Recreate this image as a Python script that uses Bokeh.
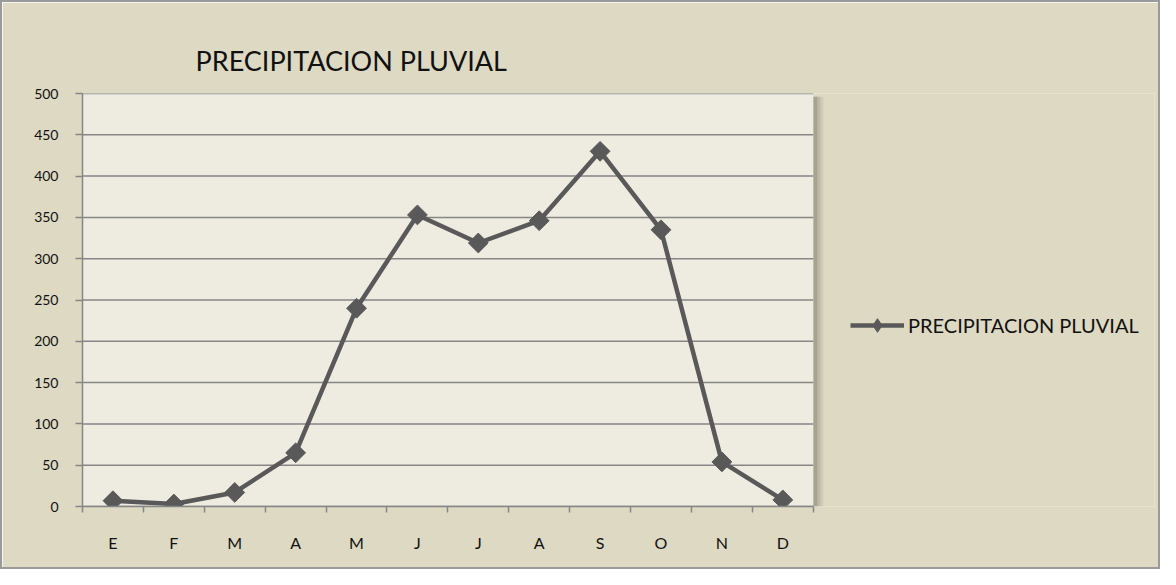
from bokeh.plotting import figure
from bokeh.models import FixedTicker, Legend, LegendItem, Range1d, Title
from bokeh.embed import file_html
from bokeh.resources import INLINE

months = ["E", "F", "M", "A", "M", "J", "J", "A", "S", "O", "N", "D"]
rain = [7, 3, 17, 65, 240, 353, 319, 346, 430, 335, 54, 8]
y_ticks = [0, 50, 100, 150, 200, 250, 300, 350, 400, 450, 500]
series_name = "PRECIPITACION PLUVIAL"
title_text = "PRECIPITACION PLUVIAL"

xs = list(range(1, len(months) + 1))
n = len(months)
x0, x1 = 0.5, n + 0.5
y0, y1 = y_ticks[0], y_ticks[-1]

FONT = "Lato"
BG = "#DDD9C3"
PLOT_BG = "#EEECE1"
GRID = "#868686"
LINE = "#595959"

W, H = 1160, 569
ML, MR, MT, MB = 80, 8, 91, 65
frame_px = (W - 4) - ML - MR
plot_px = 728.0
px = n / plot_px  # data units per pixel
x_end = x0 + frame_px * px

p = figure(width=W, height=H, output_backend="svg", toolbar_location=None,
           x_range=Range1d(x0, x_end), y_range=Range1d(y0, y1),
           min_border_left=ML, min_border_right=MR, min_border_top=MT,
           min_border_bottom=MB)
p.background_fill_color = BG
p.border_fill_color = BG
p.outline_line_color = None
p.styles = {"border": "2px solid #9a9a9a", "box-sizing": "border-box"}

# shadow of the plot area (right side)
for k, a in [(10, 0.10), (7, 0.14), (4, 0.20)]:
    p.quad(left=[x1], right=[x1 + k * px], bottom=[y0], top=[y1 - 4],
           fill_color="#505040", fill_alpha=a, line_color=None)
# plot area background
p.quad(left=[x0], right=[x1], bottom=[y0], top=[y1], fill_color=PLOT_BG,
       line_color=None)

# horizontal gridlines limited to the plot area
p.segment(x0=[x0] * len(y_ticks), x1=[x1] * len(y_ticks), y0=y_ticks, y1=y_ticks,
          line_color=GRID, line_width=1.5)
p.xgrid.grid_line_color = None
p.ygrid.grid_line_color = None

# axes
p.xaxis.bounds = (x0, x1)
p.xaxis.ticker = FixedTicker(ticks=xs, minor_ticks=[i + 0.5 for i in range(0, n + 1)])
p.xaxis.major_label_overrides = {i + 1: m for i, m in enumerate(months)}
p.xaxis.major_tick_out = 0
p.xaxis.major_tick_in = 0
p.xaxis.minor_tick_out = 6
p.xaxis.minor_tick_in = 0
p.xaxis.minor_tick_line_color = GRID
p.xaxis.minor_tick_line_width = 1.5
p.xaxis.major_label_standoff = 20
p.yaxis.ticker = FixedTicker(ticks=y_ticks)
p.yaxis.minor_tick_line_color = None
p.yaxis.major_tick_out = 7
p.yaxis.major_tick_in = 0
p.yaxis.major_tick_line_color = GRID
p.yaxis.major_tick_line_width = 1.5
p.yaxis.major_label_standoff = 17
for ax in (p.xaxis, p.yaxis):
    ax.axis_line_color = GRID
    ax.axis_line_width = 1.5
    ax.major_label_text_font = FONT
    ax.major_label_text_color = "#111111"
p.yaxis.major_label_text_font_size = "14px"
p.xaxis.major_label_text_font_size = "16px"

line = p.line(xs, rain, line_color=LINE, line_width=4.5)
marks = p.scatter(xs, rain, marker="square", angle=0.785398, size=14,
                  fill_color=LINE, line_color=LINE)
# hidden twins of the series, used only to draw the legend sample
leg_line = p.line(xs, rain, line_color=LINE, line_width=4.5, visible=False)
leg_mark = p.scatter(xs, rain, marker="diamond", size=16,
                     fill_color=LINE, line_color=LINE, visible=False)

title = Title(text=title_text, align="left", offset=113, standoff=33,
              text_font=FONT, text_font_size="27px", text_font_style="normal",
              text_color="#111111")
p.add_layout(title, "above")

legend = Legend(items=[LegendItem(label=series_name, renderers=[leg_line, leg_mark])],
                location=(768, 164), glyph_width=54, glyph_height=34,
                label_standoff=4, padding=0, margin=0,
                border_line_color=None, background_fill_alpha=0,
                inactive_fill_alpha=0,
                label_text_font=FONT, label_text_font_size="20px",
                label_text_color="#111111")
p.add_layout(legend, "center")

open("out.html", "w").write(file_html(p, INLINE))
